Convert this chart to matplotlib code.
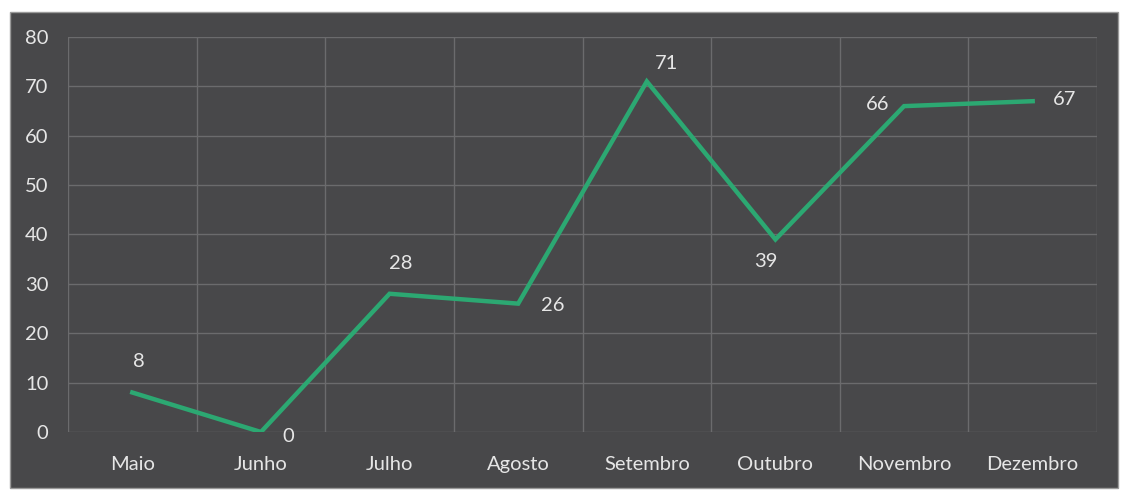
import matplotlib
matplotlib.use("Agg")
import matplotlib.pyplot as plt
from matplotlib.patches import Rectangle
from matplotlib.ticker import MultipleLocator, FixedLocator

meses = ["Maio", "Junho", "Julho", "Agosto", "Setembro", "Outubro", "Novembro", "Dezembro"]
valores = [8, 0, 28, 26, 71, 39, 66, 67]
# where each value label sits relative to its point (offset in points)
label_offsets = [(5, 22), (20, -3), (8, 22), (25, -1), (14, 13), (-7, -16), (-19, 1), (23, 1)]

bg = "#48484a"
grid_c = "#6b6b6d"
text_c = "#e6e6e6"
line_c = "#2ca872"

plt.rcParams["font.family"] = ["Lato", "DejaVu Sans"]

fig = plt.figure(figsize=(11.24, 4.95), dpi=100)
fig.patch.set_facecolor("white")
fig.patches.append(Rectangle((10 / 1124, 1 - 488 / 495), 1108 / 1124, 476 / 495,
                             transform=fig.transFigure, facecolor=bg,
                             edgecolor="#9a9a9a", linewidth=1, zorder=-10))

ax = fig.add_axes([68 / 1124, 1 - 432 / 495, 1029 / 1124, 395 / 495])
ax.set_zorder(5)
ax.set_facecolor("none")

x = list(range(len(meses)))
ax.plot(x, valores, color=line_c, linewidth=3.2, solid_joinstyle="miter", zorder=3)

for xi, v, (dx, dy) in zip(x, valores, label_offsets):
    ax.annotate(str(v), (xi, v), xytext=(dx, dy), textcoords="offset points",
                ha="center", va="center", color=text_c, fontsize=14.5)

ax.set_xlim(-0.5, len(meses) - 0.5)
ax.set_ylim(0, 80)
ax.yaxis.set_major_locator(MultipleLocator(10))
ax.set_xticks(x)
ax.set_xticklabels(meses)
ax.xaxis.set_minor_locator(FixedLocator([i - 0.5 for i in range(len(meses) + 1)]))

ax.grid(axis="y", which="major", color=grid_c, linewidth=1)
ax.grid(axis="x", which="minor", color=grid_c, linewidth=1)
ax.set_axisbelow(True)

for s in ax.spines.values():
    s.set_visible(False)
ax.tick_params(which="both", length=0)
ax.tick_params(axis="y", pad=14, labelcolor=text_c, labelsize=14.5)
ax.tick_params(axis="x", pad=17, labelcolor=text_c, labelsize=14.5)

fig.savefig("out.png", dpi=100)
